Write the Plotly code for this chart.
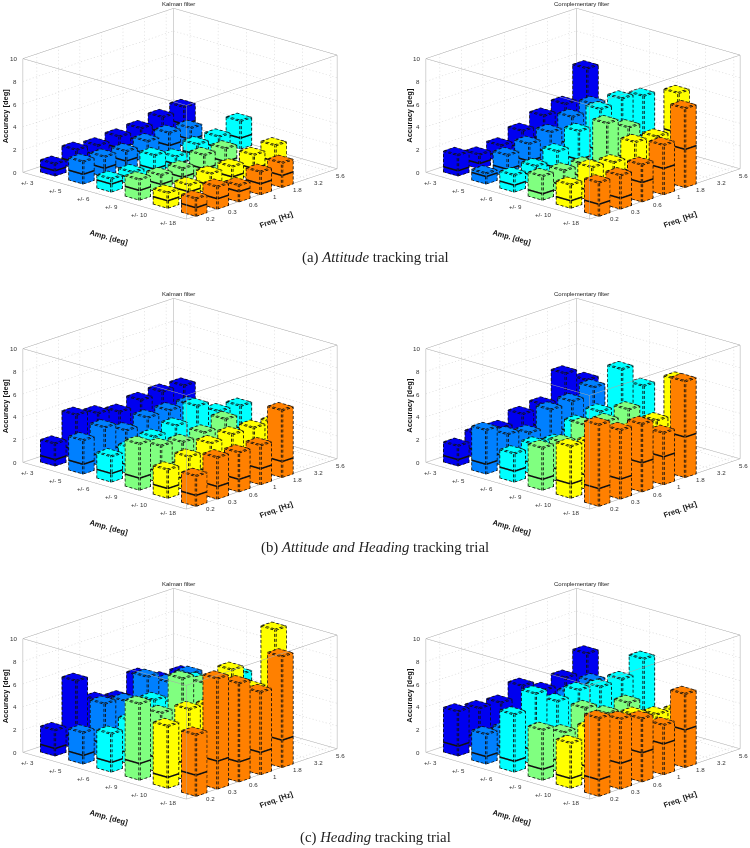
import math
import plotly.graph_objects as go

amp_labels = ['+/- 3', '+/- 5', '+/- 6', '+/- 9', '+/- 10', '+/- 18']
freq_labels = ['0.2', '0.3', '0.6', '1', '1.8', '3.2', '5.6']
z_ticks = [0, 2, 4, 6, 8, 10]
row_colors = ['#0000f0', '#0080ff', '#00ffff', '#80ff80', '#ffff00', '#ff8000']

# top of each bar, one list per amplitude row
att_kalman = [[1.1, 1.7, 1.45, 1.6, 1.7, 2.05, 2.3],
              [2.0, 1.8, 1.65, 1.9, 2.0, 1.8],
              [1.2, 1.15, 2.0, 1.25, 1.7, 1.75, 2.5],
              [1.85, 1.6, 1.55, 2.1, 2.05],
              [1.4, 1.45, 1.8, 1.8, 2.2, 2.4],
              [1.6, 2.0, 1.5, 2.05, 2.2]]
att_compl = [[1.87, 1.28, 1.45, 2.1, 2.8, 3.2, 5.7],
             [0.97, 1.94, 2.3, 2.7, 3.4, 3.9],
             [1.53, 1.68, 2.35, 3.5, 4.8, 5.1, 4.7],
             [2.15, 2.0, 1.9, 4.9, 3.9],
             [2.1, 3.0, 2.8, 3.95, 3.8, 7.0],
             [3.0, 3.0, 3.3, 4.4, 7.0]]
both_kalman = [[2.0, 3.9, 3.4, 2.9, 3.3, 3.4, 3.3],
               [3.0, 3.5, 2.6, 3.1, 3.1, 3.0],
               [2.3, 2.4, 2.75, 3.1, 4.2, 3.1, 2.95],
               [4.1, 3.3, 3.0, 3.2, 3.75],
               [2.55, 3.05, 3.6, 3.75, 3.7, 3.5],
               [2.7, 3.7, 3.5, 3.5, 5.95]]
both_compl = [[1.8, 2.2, 2.1, 2.7, 2.9, 5.0, 3.8],
              [3.9, 2.9, 2.4, 3.8, 3.9, 4.5],
              [2.55, 2.7, 2.3, 3.35, 3.7, 6.8, 4.7],
              [3.75, 3.6, 4.5, 4.2, 4.6],
              [4.6, 4.3, 4.2, 4.2, 4.35, 7.3],
              [7.2, 6.1, 6.0, 4.6, 8.5]]
head_kalman = [[2.3, 6.0, 3.7, 3.2, 4.55, 3.6, 3.5],
               [2.8, 4.7, 4.3, 5.8, 4.7, 4.8],
               [3.4, 3.9, 5.1, 4.2, 5.6, 5.0, 4.85],
               [6.75, 5.3, 7.7, 6.7, 6.0],
               [5.5, 6.35, 6.0, 8.55, 6.3, 10.8],
               [5.45, 9.75, 8.7, 7.3, 9.8]]
head_compl = [[3.95, 3.6, 3.45, 4.3, 3.3, 3.75, 5.25],
              [2.65, 2.45, 2.3, 3.5, 3.75, 4.15],
              [5.1, 6.3, 5.0, 5.35, 5.0, 5.05, 6.2],
              [4.45, 3.6, 5.1, 4.0, 4.3],
              [4.0, 4.7, 4.7, 4.6, 4.0, 3.65],
              [6.9, 6.2, 5.6, 4.4, 6.5]]

# height of the lower block of each bar
att_kalman_low = [[0.5, 0.6, 0.6, 0.6, 0.6, 0.7, 0.8],
                  [0.9, 0.8, 0.8, 0.8, 0.9, 0.8],
                  [0.75, 0.6, 0.8, 0.6, 0.8, 0.8, 1.0],
                  [0.9, 0.8, 0.8, 0.9, 0.9],
                  [0.7, 0.85, 0.8, 0.9, 1.0, 1.0],
                  [0.8, 0.95, 0.95, 1.0, 1.1]]
att_compl_low = [[0.5, 0.5, 0.5, 0.6, 0.7, 0.8, 1.6],
                 [0.7, 0.7, 0.8, 0.9, 1.0, 1.2],
                 [0.65, 0.8, 0.9, 1.0, 1.2, 1.3, 1.2],
                 [0.6, 0.7, 0.8, 1.2, 1.2],
                 [0.7, 0.9, 1.0, 1.3, 1.4, 3.5],
                 [1.1, 1.0, 1.75, 2.35, 3.4]]
both_kalman_low = [[0.6, 0.8, 0.8, 0.8, 0.9, 1.0, 1.0],
                   [0.9, 0.9, 0.9, 1.0, 1.0, 1.0],
                   [0.8, 0.8, 0.9, 1.0, 1.2, 1.0, 1.0],
                   [1.1, 1.0, 1.0, 1.1, 1.2],
                   [0.9, 1.0, 1.1, 1.2, 1.2, 1.2],
                   [1.0, 1.15, 1.15, 1.45, 1.45]]
both_compl_low = [[0.6, 0.7, 0.7, 0.8, 0.9, 1.5, 1.2],
                  [0.9, 0.9, 0.8, 1.0, 1.2, 1.4],
                  [1.0, 1.0, 0.9, 1.1, 1.2, 2.0, 1.5],
                  [1.0, 1.1, 1.2, 1.3, 1.5],
                  [1.3, 1.3, 1.4, 1.5, 1.6, 2.5],
                  [1.6, 1.8, 2.6, 2.5, 3.6]]
head_kalman_low = [[0.7, 1.0, 1.0, 1.0, 1.2, 1.2, 1.2],
                   [0.8, 1.2, 1.2, 1.4, 1.4, 1.4],
                   [0.9, 1.0, 1.3, 1.3, 1.5, 1.5, 1.5],
                   [1.5, 1.3, 1.6, 1.6, 1.6],
                   [1.0, 1.5, 1.5, 1.8, 1.8, 2.5],
                   [1.9, 2.5, 1.8, 2.0, 2.45]]
head_compl_low = [[0.9, 1.0, 1.0, 1.2, 1.2, 1.3, 1.6],
                  [0.7, 0.8, 0.8, 1.0, 1.2, 1.3],
                  [1.0, 1.3, 1.3, 1.5, 1.5, 1.5, 1.6],
                  [1.0, 1.0, 1.3, 1.3, 1.5],
                  [0.9, 1.2, 1.3, 1.5, 1.5, 1.5],
                  [1.5, 2.3, 2.6, 2.75, 3.35]]

panels = [(att_kalman, att_kalman_low, 'Kalman filter', 0, 0),
          (att_compl, att_compl_low, 'Complementary filter', 1, 0),
          (both_kalman, both_kalman_low, 'Kalman filter', 0, 1),
          (both_compl, both_compl_low, 'Complementary filter', 1, 1),
          (head_kalman, head_kalman_low, 'Kalman filter', 0, 2),
          (head_compl, head_compl_low, 'Complementary filter', 1, 2)]

W, H = 750, 848
AMP_MAX, FREQ_MAX, Z_TOP, Z_RANGE = 5.8, 7.0, 10, 11
# the front row pokes a little past the drawn box, so the real axis range is wider (same midpoint)
AMP_PAD = 0.2
BAR = 0.52
AMP_OFF, FREQ_OFF = 0.58, 0.65
CAM_SCALE = 3.0
ZOOM = 2.04
# rough screen pixels per data unit, used to size dashes and edge widths
PX = (29.0, 22.7, 11.3)
DASH = (3.0, 2.0)


def seg(pts, a, b):
    pts[0] += [a[0], b[0], None]
    pts[1] += [a[1], b[1], None]
    pts[2] += [a[2], b[2], None]


def pieces(a, b, on, off):
    length = math.sqrt(sum(((b[k] - a[k]) * PX[k]) ** 2 for k in range(3)))
    out = []
    t = 0.0
    while t < length:
        t1 = min(t + on, length)
        out.append(([a[k] + (b[k] - a[k]) * t / length for k in range(3)],
                    [a[k] + (b[k] - a[k]) * t1 / length for k in range(3)]))
        t += on + off
    return out


def dash_seg(pts, a, b, on, off):
    for p, q in pieces(a, b, on, off):
        seg(pts, p, q)


class Quads:
    # edges of the bars are thin mesh strips, scatter3d lines get hidden by the mesh faces
    def __init__(self):
        self.x, self.y, self.z, self.i, self.j, self.k = [], [], [], [], [], []

    def add(self, a, b, w):
        n = len(self.x)
        for p in (a, b, [b[0] + w[0], b[1] + w[1], b[2] + w[2]], [a[0] + w[0], a[1] + w[1], a[2] + w[2]]):
            self.x.append(p[0])
            self.y.append(p[1])
            self.z.append(p[2])
        self.i += [n, n]
        self.j += [n + 1, n + 2]
        self.k += [n + 2, n + 3]

    def dashed(self, a, b, w):
        for p, q in pieces(a, b, *DASH):
            self.add(p, q, w)


def bar_edges(q, x0, x1, y0, y1, v, m):
    d = 0.012
    X, Y, Z = x1 + d, y0 - d, v + d * 2
    wz, wy, wx = 0.08, 0.04, 0.032
    wty, wtx = 0.065, 0.055
    # amp-max face
    q.dashed((X, y0, 0), (X, y1, 0), (0, 0, wz))
    q.dashed((X, y0, v - wz), (X, y1, v - wz), (0, 0, wz))
    q.dashed((X, y0, 0), (X, y0, v), (0, wy, 0))
    q.dashed((X, y1 - wy, 0), (X, y1 - wy, v), (0, wy, 0))
    # freq-min face
    q.dashed((x0, Y, 0), (x1, Y, 0), (0, 0, wz))
    q.dashed((x0, Y, v - wz), (x1, Y, v - wz), (0, 0, wz))
    q.dashed((x0, Y, 0), (x0, Y, v), (wx, 0, 0))
    q.dashed((x1 - wx, Y, 0), (x1 - wx, Y, v), (wx, 0, 0))
    # top face
    q.dashed((x0, y0, Z), (x1, y0, Z), (0, wty, 0))
    q.dashed((x0, y1 - wty, Z), (x1, y1 - wty, Z), (0, wty, 0))
    q.dashed((x0, y0, Z), (x0, y1, Z), (wtx, 0, 0))
    q.dashed((x1 - wtx, y0, Z), (x1 - wtx, y1, Z), (wtx, 0, 0))
    # solid band where the lower block ends
    h = wz * 1.8
    q.add((X, y0, m - h / 2), (X, y1, m - h / 2), (0, 0, h))
    q.add((x0, Y, m - h / 2), (x1, Y, m - h / 2), (0, 0, h))


def add_panel(fig, top, low, title, col, row, scene):
    name = scene
    vx, vy, vz, fi, fj, fk, fc = [], [], [], [], [], [], []
    edges = Quads()
    for i, values in enumerate(top):
        for j, v in enumerate(values):
            x0 = i + AMP_OFF - BAR / 2
            x1 = x0 + BAR
            y0 = j + FREQ_OFF - BAR / 2
            y1 = y0 + BAR
            n = len(vx)
            vx += [x0, x1, x1, x0, x0, x1, x1, x0]
            vy += [y0, y0, y1, y1, y0, y0, y1, y1]
            vz += [0, 0, 0, 0, v, v, v, v]
            quads = [(0, 1, 2, 3), (4, 5, 6, 7), (0, 1, 5, 4), (1, 2, 6, 5), (2, 3, 7, 6), (3, 0, 4, 7)]
            for q in quads:
                fi += [n + q[0], n + q[0]]
                fj += [n + q[1], n + q[2]]
                fk += [n + q[2], n + q[3]]
                fc += [row_colors[i], row_colors[i]]
            bar_edges(edges, x0, x1, y0, y1, v, low[i][j])

    # dotted grid on floor and the two back walls
    grid = [[], [], []]
    amp_ticks = [a + AMP_OFF for a in range(len(amp_labels))]
    freq_ticks = [b + FREQ_OFF for b in range(len(freq_labels))]
    dot = (1.2, 2.2)
    for a in amp_ticks:
        dash_seg(grid, (a, 0, 0), (a, FREQ_MAX, 0), *dot)
        dash_seg(grid, (a, FREQ_MAX, 0), (a, FREQ_MAX, Z_TOP), *dot)
    for b in freq_ticks:
        dash_seg(grid, (0, b, 0), (AMP_MAX, b, 0), *dot)
        dash_seg(grid, (0, b, 0), (0, b, Z_TOP), *dot)
    for z in z_ticks[1:-1]:
        dash_seg(grid, (0, 0, z), (0, FREQ_MAX, z), *dot)
        dash_seg(grid, (0, FREQ_MAX, z), (AMP_MAX, FREQ_MAX, z), *dot)

    frame = [[], [], []]
    c = [(0, 0), (AMP_MAX, 0), (AMP_MAX, FREQ_MAX), (0, FREQ_MAX)]
    for k in range(4):
        p, q = c[k], c[(k + 1) % 4]
        seg(frame, (p[0], p[1], 0), (q[0], q[1], 0))
        seg(frame, (p[0], p[1], Z_TOP), (q[0], q[1], Z_TOP))
        seg(frame, (p[0], p[1], 0), (p[0], p[1], Z_TOP))

    flat = dict(ambient=1, diffuse=0, specular=0, fresnel=0, roughness=1)
    fig.add_trace(go.Scatter3d(x=grid[0], y=grid[1], z=grid[2], mode='lines', scene=name,
                               line=dict(color='#cfcfcf', width=1), hoverinfo='skip', showlegend=False))
    fig.add_trace(go.Scatter3d(x=frame[0], y=frame[1], z=frame[2], mode='lines', scene=name,
                               line=dict(color='#a8a8a8', width=1), hoverinfo='skip', showlegend=False))
    fig.add_trace(go.Mesh3d(x=vx, y=vy, z=vz, i=fi, j=fj, k=fk, facecolor=fc, flatshading=True, scene=name,
                            lighting=flat, hoverinfo='skip', showscale=False))
    fig.add_trace(go.Mesh3d(x=edges.x, y=edges.y, z=edges.z, i=edges.i, j=edges.j, k=edges.k, color='#101010',
                            flatshading=True, scene=name, lighting=flat, hoverinfo='skip', showscale=False))

    tick_font = dict(family='Liberation Sans', size=6.2, color='#333333')
    title_font = dict(family='Liberation Sans', size=7.5, color='#111111')
    ann = []
    for z in z_ticks:
        ann.append(dict(x=0, y=0, z=z, text=str(z), showarrow=False, xanchor='right', xshift=-4, font=tick_font))
    for a, t in zip(amp_ticks, amp_labels):
        ann.append(dict(x=a, y=0, z=0, text=t, showarrow=False, xshift=-12, yshift=-5, font=tick_font))
    for b, t in zip(freq_ticks, freq_labels):
        ann.append(dict(x=AMP_MAX, y=b, z=0, text=t, showarrow=False, xshift=10.5, yshift=-4, font=tick_font))
    ann.append(dict(x=AMP_MAX / 2, y=0, z=0, text='<b>Amp. [deg]</b>', showarrow=False, xshift=4, yshift=-42,
                    textangle=16, font=title_font))
    ann.append(dict(x=AMP_MAX, y=3.5, z=0, text='<b>Freq. [Hz]</b>', showarrow=False, xshift=15, yshift=-26,
                    textangle=-20, font=title_font))
    ann.append(dict(x=0, y=0, z=5, text='<b>Accuracy [deg]</b>', showarrow=False, xshift=-17,
                    textangle=-90, font=title_font))

    axis = dict(visible=False, showspikes=False)
    cx = 180 + col * 403.4
    cy = 110 + row * 290
    half_w, half_h = 162, 110
    x_stretch = (AMP_MAX + 2 * AMP_PAD) / AMP_MAX
    fig.update_layout({name: dict(
        domain=dict(x=[(cx - half_w) / W, (cx + half_w) / W],
                    y=[1 - (cy + half_h) / H, 1 - (cy - half_h) / H]),
        xaxis=dict(range=[-AMP_PAD, AMP_MAX + AMP_PAD], **axis),
        yaxis=dict(range=[0, FREQ_MAX], **axis),
        zaxis=dict(range=[0, Z_RANGE], **axis),
        aspectmode='manual',
        aspectratio=dict(x=0.993 * ZOOM * x_stretch, y=0.989 * ZOOM, z=0.533 * ZOOM * Z_RANGE / Z_TOP),
        camera=dict(eye=dict(x=0.648 * CAM_SCALE, y=-0.70 * CAM_SCALE, z=0.31 * CAM_SCALE - 0.019),
                    up=dict(x=0, y=0, z=1), center=dict(x=0, y=0, z=-0.019),
                    projection=dict(type='orthographic')),
        bgcolor='white',
        annotations=ann)})
    return cx, row * 290 + 4


fig = go.Figure()
page_notes = []
for idx, (top, low, title, col, row) in enumerate(panels):
    scene = 'scene' if idx == 0 else 'scene%d' % (idx + 1)
    cx, ty = add_panel(fig, top, low, title, col, row, scene)
    page_notes.append(dict(x=(cx - 2 * (1 - col)) / W + (-0.003 if col else 0), y=1 - ty / H, xref='paper', yref='paper',
                           text=title, showarrow=False, xanchor='center', yanchor='middle',
                           font=dict(family='Liberation Sans', size=6, color='#222222')))

caption_font = dict(family='Liberation Serif', size=14.8, color='#222222')
captions = [('(a) <i>Attitude</i> tracking trial', 257),
            ('(b) <i>Attitude and Heading</i> tracking trial', 547),
            ('(c) <i>Heading</i> tracking trial', 837)]
for text, y in captions:
    page_notes.append(dict(x=0.5, y=1 - y / H, xref='paper', yref='paper', text=text, showarrow=False,
                           xanchor='center', yanchor='middle', font=caption_font))

fig.update_layout(width=W, height=H, margin=dict(l=0, r=0, t=0, b=0), paper_bgcolor='white',
                  showlegend=False, annotations=page_notes)
fig.write_html('out.html', config=dict(displayModeBar=False),
               post_script="document.body.style.margin='0';")
